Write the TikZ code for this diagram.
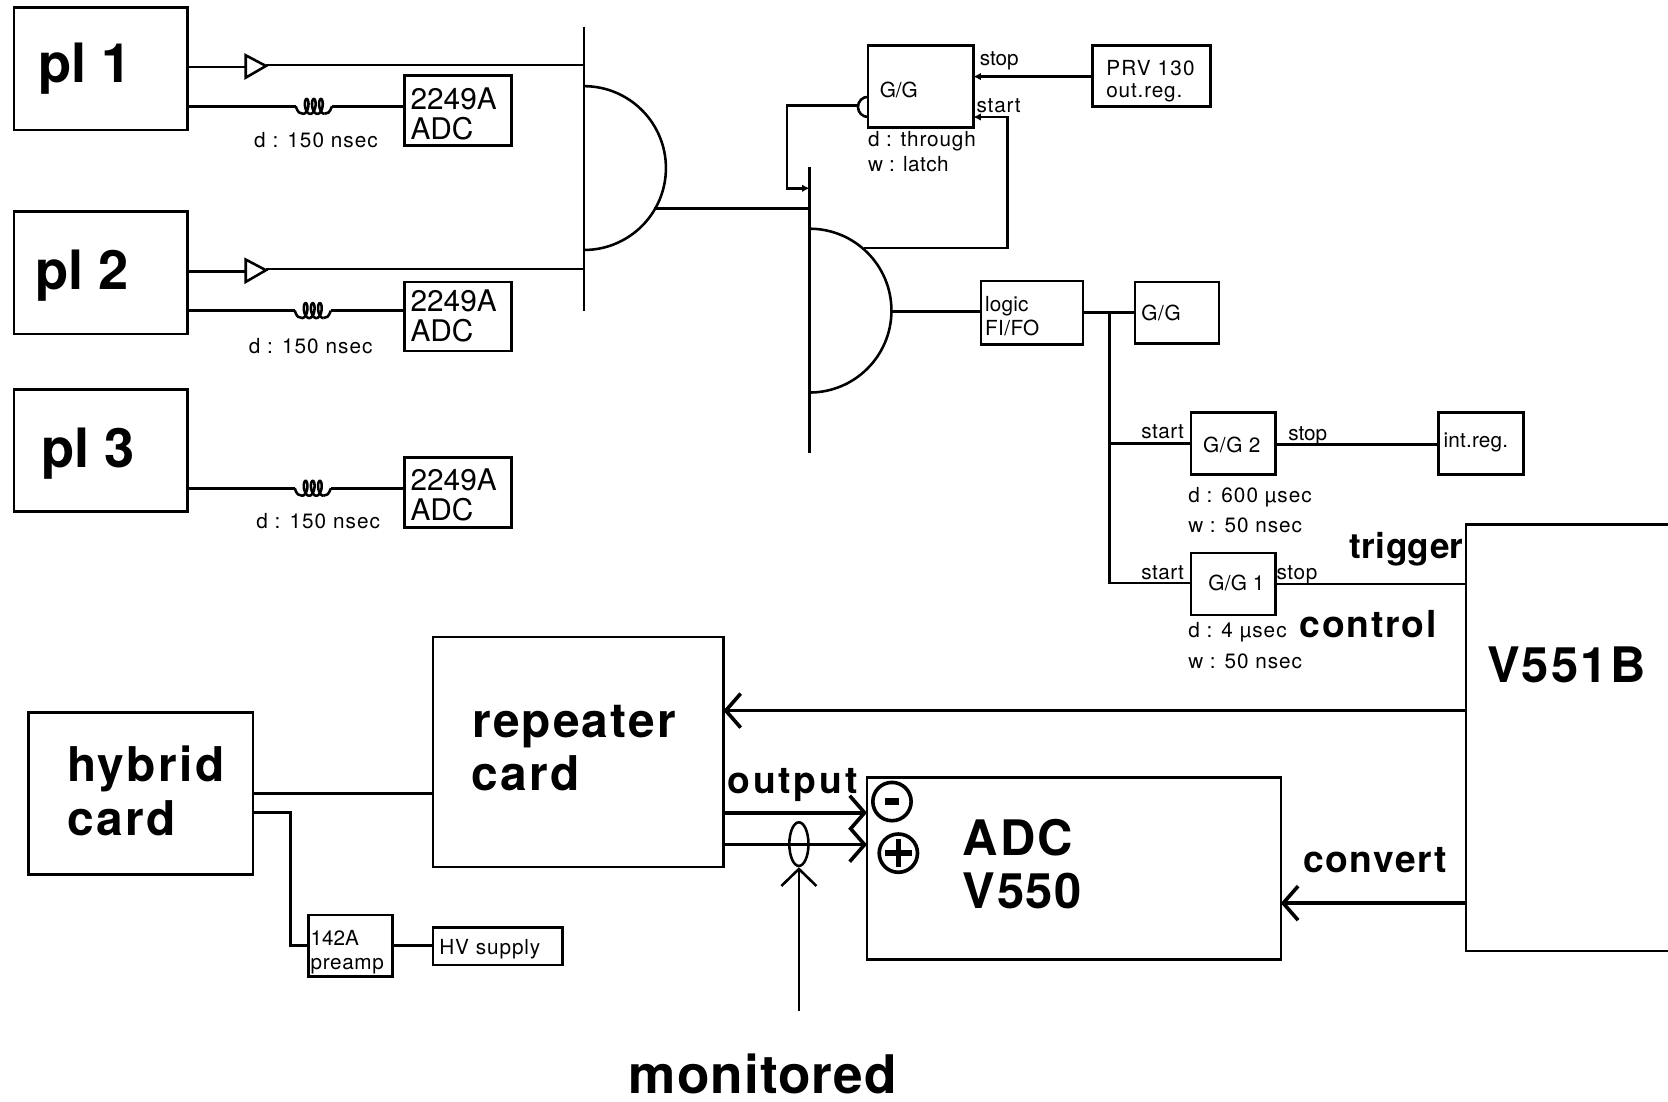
\documentclass[tikz,border=0pt]{standalone}
\usepackage{fontspec}
\setmainfont{TeX Gyre Heros}
\usetikzlibrary{arrows.meta,fit,shapes.geometric}
\tikzset{
  x=1pt,y=-1pt,
  wire/.style={line width=2.4pt,line join=miter},
  thickwire/.style={line width=3.4pt},
  box/.style={draw,line width=2.4pt,inner sep=0pt,outer sep=0pt,fill=none},
  frame/.style={inner sep=0pt,outer sep=0pt},
  txt/.style={anchor=base west,inner sep=0pt,outer sep=0pt},
  smallhead/.style={-{Latex[length=7pt,width=7pt]}},
  barb/.style={-{Straight Barb[length=14pt,width=32pt,line width=3.4pt]}},
}
\newcommand\lab[5]{\node[txt] (#1) at (#2) {\fontsize{#3}{#3}\selectfont\addfontfeature{LetterSpace=#4}#5};}
\newcommand\blab[5]{\node[txt,font=\bfseries] (#1) at (#2) {\fontsize{#3}{#3}\selectfont\addfontfeature{LetterSpace=#4}#5};}
\newcommand\bx[3]{\node[box,fit={(#2) (#3)}] (#1) {};}
\newcommand\coil[2]{%
  \draw[wire] (#1-17,#2) .. controls (#1-15,#2+6) and (#1-13,#2+7) .. (#1-10,#2+7);
  \draw[wire,domain=0:1080,samples=121,smooth,variable=\t]
    plot ({#1+(\t-540)/360*6.7+3.2*sin(\t)},{#2+7*cos(\t)});
  \draw[wire] (#1+10,#2+7) .. controls (#1+13,#2+7) and (#1+15,#2+6) .. (#1+17,#2);
}
\newcommand\buf[2]{\draw[wire,fill=white] (#1,#2-11) -- (#1,#2+10) -- (#1+19,#2-1) -- cycle;}
\begin{document}
\begin{tikzpicture}
\useasboundingbox (0,0) rectangle (1568,1035);
% --- plates
\bx{pla}{13,7}{176,122}
\bx{plb}{13,199}{176,314}
\bx{plc}{13,366}{176,481}
\blab{plat}{36,78}{51}{0}{pl 1}
\blab{plbt}{33,272}{51}{0}{pl 2}
\blab{plct}{39,439}{51}{0}{pl 3}
% --- ADCs
\bx{adca}{380,71}{481,137}
\bx{adcb}{380,265}{481,330}
\bx{adcc}{380,430}{481,496}
\lab{adcat}{386,103}{28}{0}{2249A}
\lab{adcau}{386,131}{28}{0}{ADC}
\lab{adcbt}{386,293}{28}{0}{2249A}
\lab{adcbu}{386,321}{28}{0}{ADC}
\lab{adcct}{386,461}{28}{0}{2249A}
\lab{adccu}{386,489}{28}{0}{ADC}
\lab{dla}{239,139}{19.5}{5}{d : 150 nsec}
\lab{dlb}{234,332}{19.5}{5}{d : 150 nsec}
\lab{dlc}{241,497}{19.5}{5}{d : 150 nsec}
% --- coil connectors
\coordinate (ca) at (295,100);
\coordinate (cb) at (294,292);
\coordinate (cc) at (294,459);
\coil{295}{100}
\coil{294}{292}
\coil{294}{459}
\draw[wire] (pla.east |- ca) -- (278,100);
\draw[wire] (312,100) -- (adca.west |- ca);
\draw[wire] (plb.east |- cb) -- (277,292);
\draw[wire] (311,292) -- (adcb.west |- cb);
\draw[wire] (plc.east |- cc) -- (277,459);
\draw[wire] (311,459) -- (adcc.west |- cc);
% --- gate 1
\coordinate (gatea) at (549,158);
\coordinate (gateb) at (761,292);
\coordinate (bufa) at (231,63);
\coordinate (bufb) at (231,255);
\draw[wire] (549,25) -- (549,292);
\draw[wire] (549,81) arc[start angle=90,end angle=-90,radius=77pt];
\draw[wire] (pla.east |- bufa) -- (bufa);
\draw[wire] (plb.east |- bufb) -- (bufb);
\buf{231}{63}
\buf{231}{255}
\draw[wire] (250,61) -- (gatea |- 0,61);
\draw[wire] (250,253) -- (gatea |- 0,253);
\draw[wire] (615,196) -- (gateb |- 0,196);
% --- gate 2
\draw[wire] (761,157) -- (761,426);
\draw[wire] (761,215) arc[start angle=90,end angle=-90,radius=77pt];
% --- upper G/G
\bx{gga}{816,43}{915,120}
\bx{prv}{1027,43}{1138,100}
\lab{ggat}{827,92}{19.5}{0}{G/G}
\lab{prvt}{1040,71}{19.5}{6}{PRV 130}
\lab{prvu}{1040,92}{19.5}{4}{out.reg.}
\lab{ggst}{921,62}{19.5}{0}{stop}
\lab{ggsr}{918,106}{19.5}{4}{start}
\lab{ggd}{816,138}{19.5}{4}{d : through}
\lab{ggw}{816,161}{19.5}{2}{w : latch}
\draw[wire,smallhead] (prv.west |- 0,72) -- (gga.east |- 0,72);
\draw[wire,smallhead] (812,233) -- (947,233) -- (947,110) -- (gga.east |- 0,110);
\draw[wire] (gga.west |- 0,91) arc[start angle=90,end angle=270,radius=9.5pt];
\draw[wire,smallhead] (806.5,99) -- (740,99) -- (740,177) -- (gateb |- 0,177);
% --- logic fan-out
\bx{fifo}{922,264}{1018,324}
\bx{ggb}{1067,265}{1146,323}
\bx{gg2}{1119.5,388}{1199,446}
\bx{gg1}{1119.5,520}{1199,578}
\bx{intr}{1352,388}{1432,446}
\lab{fifot}{926,293}{19.5}{1}{logic}
\lab{fifou}{926,315}{19.5}{2}{FI/FO}
\lab{ggbt}{1073,301}{19.5}{3}{G/G}
\lab{gg2t}{1131,425}{19.5}{3}{G/G 2}
\lab{gg1t}{1136,555}{19.5}{1}{G/G 1}
\lab{intt}{1357,421}{19.5}{1}{int.reg.}
\lab{st2a}{1073,412}{19.5}{2}{start}
\lab{st2b}{1211,414}{19.5}{0}{stop}
\lab{st1a}{1073,545}{19.5}{2}{start}
\lab{st1b}{1200,545}{19.5}{3}{stop}
\lab{d2}{1117,472}{19.5}{5}{d : 600 µsec}
\lab{w2}{1117,501}{19.5}{4.5}{w : 50 nsec}
\lab{d1}{1117,599}{19.5}{5}{d : 4 µsec}
\lab{w1}{1117,628}{19.5}{4.5}{w : 50 nsec}
\draw[wire] (838,293) -- (fifo.west |- 0,293);
\draw[wire] (fifo.east |- 0,294) -- (ggb.west |- 0,294);
\coordinate (tap) at (1043,294);
\draw[wire] (tap) -- (1043,548) -- (gg1.west |- 0,548);
\draw[wire] (1043,417) -- (gg2.west |- 0,417);
\draw[wire] (gg2.east |- 0,418) -- (intr.west |- 0,418);
% --- V551B
\node[frame,fit={(1378,493) (1568,894)}] (vb) {};
\draw[wire] (vb.north east) -- (vb.north west) -- (vb.south west) -- (vb.south east);
\blab{vbt}{1398,642}{46}{4.4}{V551B}
\blab{trg}{1269,525}{33}{1}{trigger}
\blab{ctl}{1222,599}{35}{4.6}{control}
\draw[wire] (gg1.east |- 0,549) -- (vb.west |- 0,549);
% --- lower part
\bx{hyb}{27,670}{238,822}
\bx{rep}{407,599}{680,815}
\bx{adcv}{815,731}{1204,902}
\bx{pre}{290,860}{369,918}
\bx{hv}{407,872}{529,907}
\blab{hybt}{63,735}{45}{5}{hybrid}
\blab{hybu}{63,785}{45}{5}{card}
\blab{rept}{444,693}{45}{4.3}{repeater}
\blab{repu}{443,743}{45}{5}{card}
\blab{adct}{905,804}{46}{4.6}{ADC}
\blab{adcu}{905,854}{46}{3.4}{V550}
\blab{outt}{684,746}{35}{7.6}{output}
\blab{conv}{1225,820}{35}{4.4}{convert}
\blab{mont}{591,1028}{50}{2}{monitored}
\lab{pret}{292,889}{19.5}{0}{142A}
\lab{preu}{292,911}{19.5}{3}{preamp}
\lab{hvt}{413,897}{19.5}{4.5}{HV supply}
\draw[wire] (hyb.east |- 0,746) -- (rep.west |- 0,746);
\draw[wire] (hyb.east |- 0,764) -- (273,764) -- (273,889) -- (pre.west |- 0,889);
\draw[wire] (pre.east |- 0,889) -- (hv.west |- 0,889);
\draw[thickwire,barb] (vb.west |- 0,668) -- (rep.east |- 0,668);
\draw[thickwire,barb] (vb.west |- 0,849) -- (adcv.east |- 0,849);
\draw[thickwire,barb] (rep.east |- 0,764) -- (adcv.west |- 0,764);
\draw[thickwire,barb] (rep.east |- 0,794) -- (adcv.west |- 0,794);
% --- polarity signs
\node[circle,draw,line width=3.4pt,minimum size=36pt,inner sep=0pt] (minus) at (838.5,753.5) {};
\draw[line width=7pt] (minus.center) ++(-6.5,0) -- ++(13,0);
\node[circle,draw,line width=3.4pt,minimum size=36pt,inner sep=0pt] (plus) at (844.5,802) {};
\draw[line width=5pt] (plus.center) ++(-13,0) -- ++(26,0);
\draw[line width=5pt] (plus.center) ++(0,-13) -- ++(0,26);
% --- monitored probe
\node[ellipse,draw,line width=2.4pt,minimum width=18pt,minimum height=41pt,inner sep=0pt] (probe) at (751,793.5) {};
\coordinate (pbot) at (751,950);
\draw[line width=2.4pt,-{Straight Barb[length=16pt,width=33pt,line width=2.4pt]}] (pbot) -- (probe.south);
\end{tikzpicture}
\end{document}
